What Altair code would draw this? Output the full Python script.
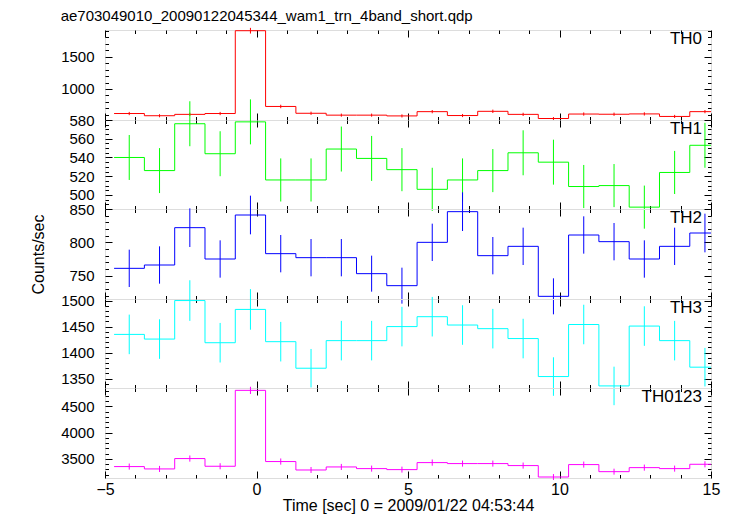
import altair as alt
import pandas as pd

title_text = "ae703049010_20090122045344_wam1_trn_4band_short.qdp"
x_title = "Time [sec] 0 = 2009/01/22 04:53:44"
y_title = "Counts/sec"
names = ["TH0", "TH1", "TH2", "TH3", "TH0123"]
colors = ["#ff0000", "#00ff00", "#0000ff", "#00ffff", "#ff00ff"]

# bin centres (s), 1 s bins
times = [-4.2, -3.2, -2.2, -1.2, -0.2, 0.8, 1.8, 2.8, 3.8, 4.8,
         5.8, 6.8, 7.8, 8.8, 9.8, 10.8, 11.8, 12.8, 13.8, 14.8]

th0 = [621, 587, 608, 621, 1900, 730, 625, 596, 596, 584,
       650, 590, 655, 608, 544, 613, 610, 615, 576, 650]
th0_err = [25, 24, 25, 25, 44, 27, 25, 24, 24, 24,
           25, 24, 26, 25, 23, 25, 25, 25, 24, 25]

th1 = [540, 526, 576, 544, 578, 516, 516, 549, 539, 527,
       506, 516, 526, 545, 535, 509, 510, 487, 524, 553]
th1_err = [24, 24, 24, 24, 24, 23, 23, 24, 24, 23,
           23, 23, 23, 24, 24, 23, 23, 23, 23, 24]

th2 = [761, 766, 822, 775, 841, 783, 777, 777, 753, 735,
       800, 846, 780, 794, 719, 811, 801, 775, 794, 814]
th2_err = [28, 28, 29, 28, 29, 28, 28, 28, 27, 27,
           28, 29, 28, 28, 27, 28, 28, 28, 28, 29]

th3 = [1435, 1426, 1500, 1419, 1483, 1421, 1370, 1423, 1423, 1450,
       1469, 1453, 1446, 1427, 1354, 1454, 1336, 1451, 1423, 1372]
th3_err = [38, 38, 39, 38, 39, 38, 37, 38, 38, 38,
           38, 38, 38, 38, 37, 38, 37, 38, 38, 37]

th0123 = [3353, 3308, 3506, 3359, 4808, 3449, 3288, 3346, 3314, 3295,
          3429, 3410, 3410, 3372, 3154, 3391, 3256, 3333, 3314, 3397]
th0123_err = [58, 58, 59, 58, 69, 59, 57, 58, 58, 57,
              59, 58, 58, 58, 56, 58, 57, 58, 58, 58]

series = [th0, th1, th2, th3, th0123]
errors = [th0_err, th1_err, th2_err, th3_err, th0123_err]

y_domains = [[521, 1911], [485, 580], [715, 850], [1332, 1503], [3135, 4853]]
y_major_step = [500, 20, 50, 50, 500]
y_ticks = [list(range(600, 1901, 100)), list(range(485, 581, 5)),
           list(range(720, 851, 10)), list(range(1340, 1501, 10)),
           list(range(3200, 4801, 100))]

x_ticks = list(range(-5, 16))
x_major_step = 5

W = 606
heights = [90, 89, 90, 89, 90]
MAJ = 7
MIN = 3.5
FONT = "Liberation Sans"


def tick_dash(step):
    # inward tick marks: grid lines dashed so only the first few px show
    return alt.condition(f"datum.value % {step} === 0",
                         alt.value([MAJ, 3000]), alt.value([MIN, 3000]))


def border_axis(orient, values, step):
    return alt.Axis(
        orient=orient, values=values, labels=False, ticks=False,
        domain=False, grid=True, gridColor="black", gridOpacity=1,
        gridWidth=1, gridDash=tick_dash(step), title=None,
    )


def panel(i):
    df = pd.DataFrame({"t": times, "v": series[i], "e": errors[i]})
    col = colors[i]
    xs = alt.Scale(domain=[-5, 15], nice=False, zero=False)
    ys = alt.Scale(domain=y_domains[i], nice=False, zero=False)
    last = i == len(names) - 1
    ystep = y_major_step[i]

    base = alt.Chart(df).transform_calculate(
        lo="datum.t - 0.5", hi="datum.t + 0.5",
        elo="datum.v - datum.e", ehi="datum.v + datum.e",
    )

    if last:
        xlab = alt.Axis(
            orient="bottom", values=x_ticks, format="d",
            labelExpr=f"datum.value % {x_major_step} === 0 ? datum.label : ''",
            labelOverlap=False, ticks=False, tickSize=0, domain=False,
            grid=True, gridColor="black", gridOpacity=1, gridWidth=1,
            gridDash=tick_dash(x_major_step),
            labelFontSize=16, labelPadding=3, labelFlush=False,
            labelColor="black", labelFont=FONT, title=x_title,
            titleFontSize=16, titleFontWeight="normal", titlePadding=0,
            titleColor="black", titleFont=FONT,
        )
    else:
        xlab = border_axis("bottom", x_ticks, x_major_step)

    ylab_kwargs = dict(
        orient="left", values=y_ticks[i], format="d",
        labelExpr=f"datum.value % {ystep} === 0 ? datum.label : ''",
        labelOverlap=False, ticks=False, tickSize=0, domain=False,
        grid=True, gridColor="black", gridOpacity=1, gridWidth=1,
        gridDash=tick_dash(ystep),
        labelFontSize=15, labelPadding=11, labelFlush=False,
        labelColor="black", labelFont=FONT,
    )
    if i == 2:
        ylab = alt.Axis(title=y_title, titleFontSize=16,
                        titleFontWeight="normal", titlePadding=22,
                        titleColor="black", titleFont=FONT, **ylab_kwargs)
    else:
        ylab = alt.Axis(title=None, **ylab_kwargs)

    # step tops (bottom + left border axes)
    step = base.mark_rule(color=col, strokeWidth=1, clip=True).encode(
        x=alt.X("lo:Q", scale=xs, axis=xlab),
        x2="hi:Q",
        y=alt.Y("v:Q", scale=ys, axis=ylab),
    )
    # vertical connectors between bins (top + right border axes)
    conn = base.transform_window(
        prev="lag(v)", sort=[alt.SortField("t")]
    ).transform_filter("datum.prev != null").mark_rule(
        color=col, strokeWidth=1
    ).encode(
        x=alt.X("lo:Q", scale=xs, axis=border_axis("top", x_ticks, x_major_step)),
        y=alt.Y("prev:Q", scale=ys, axis=border_axis("right", y_ticks[i], ystep)),
        y2="v:Q",
    )
    # vertical error bars
    ebar = base.mark_rule(color=col, strokeWidth=1).encode(
        x=alt.X("t:Q", scale=xs, axis=None),
        y=alt.Y("elo:Q", scale=ys, axis=None),
        y2="ehi:Q",
    )
    label = alt.Chart(pd.DataFrame({"name": [names[i]]})).mark_text(
        align="right", baseline="top", fontSize=17, font=FONT, color="black"
    ).encode(text="name:N", x=alt.value(W - 9), y=alt.value(1))

    lay = alt.layer(step, conn, ebar, label).resolve_axis(
        x="independent", y="independent"
    ).properties(width=W, height=heights[i])
    if i == 0:
        lay = lay.properties(title=alt.TitleParams(
            text=title_text, anchor="start", fontSize=15,
            fontWeight="normal", font=FONT, color="black", offset=-0.5,
        ))
    return lay


chart = alt.vconcat(
    *[panel(i) for i in range(len(names))], spacing=0, bounds="flush"
).resolve_scale(
    x="independent", y="independent"
).properties(
    padding={"left": 22, "top": 0, "right": 0, "bottom": 0}
).configure_view(
    stroke="black", strokeWidth=1
).configure(font=FONT, background="white")

chart.save("out.html", embed_options={"renderer": "svg", "actions": False})
